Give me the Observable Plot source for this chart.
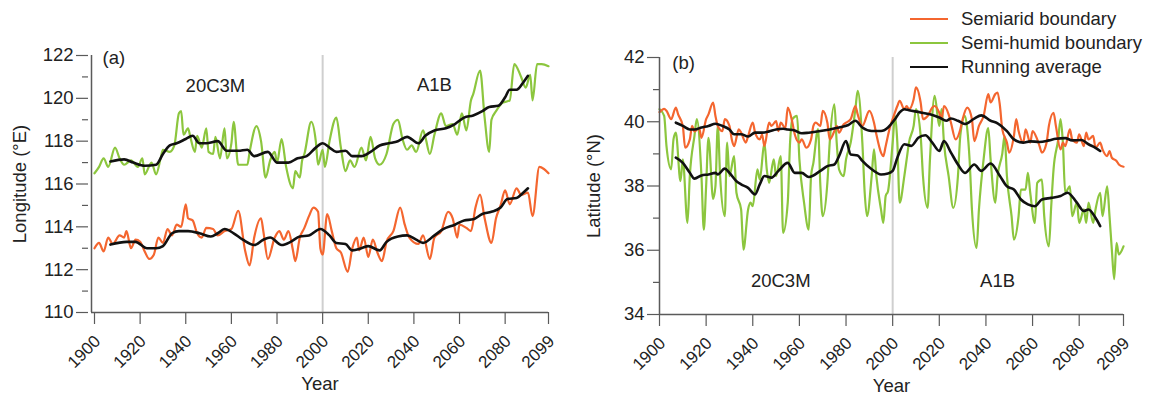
<!DOCTYPE html>
<html><head><meta charset="utf-8">
<script src="https://cdn.jsdelivr.net/npm/d3@7"></script>
<script src="https://cdn.jsdelivr.net/npm/@observablehq/plot@0.6"></script>
<style>
body{margin:0;background:#fff;}
#wrap{position:relative;width:1149px;height:396px;font-family:"Liberation Sans",Arial,sans-serif;color:#222;overflow:hidden;}
#wrap svg{position:absolute;top:0;}
#legend{position:absolute;left:910px;top:7px;font-size:18.5px;}
.row{height:24px;display:flex;align-items:center;white-space:nowrap;}
.sw{width:38px;height:2px;margin-right:13px;}
</style></head><body><div id="wrap"><div id="legend"></div></div>
<script>
// ---------- data ----------
const seriesNames = ["Semiarid boundary", "Semi-humid boundary", "Running average"];
const yearTicks = [1900,1920,1940,1960,1980,2000,2020,2040,2060,2080,2099];
const lonTicks = [110,112,114,116,118,120,122];
const lonMinor = [111,113,115,117,119,121];
const latTicks = [34,36,38,40,42];
const latMinor = [35,37,39,41];
const scenarioYear = [2000];

// panel (a): longitude (°E)
const lonSemihumid = [[1900,116.5],[1902,116.8],[1904,117.2],[1906,116.8],[1909,117.7],[1911,117.2],[1913,116.9],[1916,117.1],[1919,116.8],[1921,117.2],[1922,116.45],[1925,117.0],[1927,116.45],[1929,117.2],[1930,117.6],[1933,117.5],[1935,117.8],[1937,119.3],[1938,119.4],[1939,118.3],[1941,118.6],[1942,118.2],[1944,117.5],[1945,118.25],[1947,117.7],[1949,118.6],[1950,117.5],[1952,117.4],[1953,118.2],[1955,117.2],[1957,118.6],[1958,117.2],[1960,117.9],[1961,118.9],[1963,116.9],[1965,116.9],[1967,116.9],[1968,117.5],[1971,118.7],[1973,118.0],[1975,116.3],[1977,117.1],[1979,117.5],[1980,117.0],[1982,118.1],[1984,116.8],[1987,115.8],[1988,116.6],[1990,116.3],[1991,117.1],[1992,117.4],[1995,118.9],[1997,118.0],[1998,116.9],[2000,117.6],[2001,116.8],[2003,118.0],[2006,119.1],[2008,117.7],[2010,116.6],[2012,117.1],[2014,116.8],[2017,117.7],[2019,117.1],[2021,118.2],[2023,117.2],[2025,116.9],[2028,117.4],[2031,118.8],[2033,119.0],[2035,118.1],[2037,117.6],[2039,117.8],[2041,117.5],[2044,118.5],[2045,118.2],[2047,117.4],[2049,118.3],[2052,119.3],[2054,118.7],[2057,118.8],[2059,118.3],[2061,119.3],[2063,118.5],[2065,119.9],[2066,120.2],[2069,121.3],[2071,119.1],[2073,117.5],[2074,119.0],[2076,119.4],[2079,119.8],[2082,119.9],[2084,121.6],[2087,121.0],[2089,120.5],[2091,121.1],[2092,119.9],[2094,121.6],[2096,121.6],[2099,121.5]];
const lonSemiarid = [[1900,113.0],[1902,113.25],[1904,112.85],[1906,113.5],[1908,113.2],[1911,113.6],[1913,113.5],[1914,113.8],[1916,113.0],[1918,113.4],[1920,113.3],[1922,112.85],[1924,112.5],[1926,112.7],[1928,113.5],[1930,113.25],[1932,113.9],[1934,113.6],[1936,114.1],[1938,114.0],[1940,115.05],[1941,114.4],[1943,114.3],[1945,113.7],[1947,113.5],[1949,113.95],[1952,113.9],[1954,113.6],[1957,113.8],[1960,113.9],[1963,114.75],[1966,112.9],[1968,112.2],[1970,113.5],[1973,114.4],[1974,113.8],[1976,112.5],[1979,113.5],[1981,113.8],[1983,113.4],[1985,113.8],[1987,112.9],[1988,112.4],[1990,113.5],[1992,113.95],[1994,114.5],[1996,114.9],[1998,114.7],[1999,113.0],[2000,112.7],[2002,114.6],[2004,113.8],[2006,113.0],[2008,112.8],[2011,111.9],[2013,113.0],[2015,113.5],[2016,112.9],[2018,113.5],[2020,112.6],[2022,113.4],[2024,112.8],[2026,112.4],[2028,113.3],[2031,113.8],[2034,114.9],[2036,114.1],[2038,113.5],[2042,113.2],[2044,113.6],[2047,112.5],[2049,113.5],[2052,113.8],[2055,114.7],[2057,114.4],[2059,113.5],[2060,114.1],[2063,113.95],[2065,113.8],[2067,114.9],[2069,115.5],[2071,114.4],[2074,113.25],[2076,114.4],[2078,115.0],[2080,115.7],[2082,115.05],[2085,115.8],[2087,115.5],[2090,115.6],[2092,114.5],[2095,116.8],[2097,116.7],[2099,116.5]];
const lonSemihumidAvg = [[1907,117.05],[1913,117.15],[1917,117.0],[1922,116.85],[1927,116.9],[1930,117.4],[1933,117.8],[1936,117.9],[1940,118.1],[1943,118.25],[1946,117.9],[1949,117.9],[1954,118.0],[1958,117.55],[1963,117.55],[1967,117.6],[1970,117.3],[1976,117.5],[1980,117.0],[1985,117.0],[1989,117.2],[1993,117.3],[1997,117.7],[2000,117.9],[2003,117.7],[2006,117.5],[2010,117.55],[2013,117.3],[2017,117.3],[2021,117.5],[2025,117.8],[2029,117.9],[2033,118.0],[2037,118.2],[2042,117.9],[2045,118.25],[2049,118.5],[2054,118.6],[2058,118.8],[2062,119.1],[2066,119.2],[2070,119.4],[2073,119.6],[2077,119.65],[2080,120.05],[2082,120.4],[2085,120.4],[2088,120.75],[2090,121.05]];
const lonSemiaridAvg = [[1907,113.17],[1914,113.3],[1918,113.3],[1923,113.0],[1927,113.0],[1930,113.1],[1934,113.7],[1937,113.8],[1941,113.8],[1946,113.7],[1951,113.55],[1954,113.7],[1957,113.9],[1961,113.7],[1965,113.4],[1970,113.15],[1974,113.4],[1977,113.5],[1982,113.15],[1986,113.3],[1990,113.55],[1994,113.6],[1999,113.9],[2003,113.6],[2006,113.25],[2010,113.2],[2013,112.9],[2017,113.0],[2020,113.1],[2025,112.9],[2028,113.3],[2033,113.55],[2037,113.6],[2041,113.4],[2044,113.25],[2049,113.6],[2053,113.9],[2058,114.1],[2062,114.3],[2066,114.35],[2070,114.6],[2074,114.7],[2078,114.9],[2081,115.3],[2085,115.35],[2088,115.6],[2090,115.8]];

// panel (b): latitude (°N)
const latSemiarid = [[1900,40.3],[1902,40.4],[1903,40.34],[1905,40.08],[1907,40.44],[1908,40.23],[1910,39.87],[1911,39.19],[1913,39.45],[1914,39.87],[1915,39.7],[1917,39.8],[1918,39.5],[1920,40.08],[1921,40.23],[1923,40.6],[1924,40.18],[1925,39.87],[1927,39.71],[1928,40.08],[1930,39.87],[1931,39.45],[1932,39.24],[1934,39.76],[1935,39.66],[1937,39.35],[1938,39.55],[1940,39.97],[1941,39.66],[1943,39.45],[1944,39.6],[1945,39.24],[1947,39.97],[1948,39.87],[1950,40.02],[1951,39.71],[1952,39.97],[1954,39.8],[1955,40.44],[1957,39.97],[1958,39.61],[1960,39.35],[1961,39.45],[1963,39.19],[1965,39.45],[1966,39.87],[1967,39.97],[1969,39.87],[1970,40.34],[1972,39.97],[1973,39.45],[1975,39.71],[1976,39.87],[1977,39.66],[1979,39.92],[1980,39.97],[1982,40.08],[1984,40.49],[1985,40.23],[1987,39.87],[1990,40.34],[1992,39.97],[1993,39.61],[1995,39.04],[1996,38.93],[1997,39.24],[1999,39.87],[2000,40.08],[2002,40.49],[2003,40.65],[2005,40.39],[2006,40.49],[2007,40.39],[2009,40.7],[2010,41.07],[2012,40.6],[2013,40.08],[2015,40.18],[2017,40.44],[2018,40.49],[2020,40.28],[2021,40.08],[2022,40.49],[2024,40.23],[2025,39.97],[2027,39.45],[2029,39.76],[2030,40.08],[2032,40.44],[2034,40.08],[2035,39.4],[2037,39.87],[2039,40.18],[2041,40.86],[2042,40.6],[2044,40.86],[2045,40.91],[2046,40.5],[2047,39.77],[2049,39.35],[2050,39.04],[2052,39.56],[2053,40.08],[2054,39.71],[2056,39.35],[2057,39.76],[2059,39.35],[2060,39.71],[2062,39.45],[2063,39.24],[2064,39.04],[2066,39.35],[2067,39.87],[2069,40.28],[2070,39.87],[2072,39.14],[2073,39.35],[2074,39.24],[2076,39.76],[2077,39.45],[2079,39.35],[2080,39.61],[2082,39.24],[2083,39.66],[2084,39.45],[2086,39.56],[2087,39.19],[2089,39.35],[2090,39.14],[2092,38.93],[2093,39.09],[2094,38.88],[2096,38.78],[2097,38.67],[2099,38.6]];
const latSemihumid = [[1900,40.39],[1902,40.18],[1903,39.24],[1905,38.52],[1906,39.45],[1907,39.66],[1909,38.15],[1910,38.83],[1912,36.85],[1913,38.31],[1915,39.56],[1916,40.08],[1918,38.3],[1919,36.64],[1920,38.0],[1921,39.5],[1923,37.6],[1924,38.0],[1925,39.87],[1926,38.31],[1928,37.06],[1929,39.35],[1930,38.31],[1932,38.93],[1933,37.79],[1935,37.27],[1936,36.02],[1938,37.27],[1939,37.48],[1940,37.37],[1942,38.52],[1943,38.2],[1945,39.35],[1946,38.52],[1947,38.1],[1949,38.83],[1950,38.31],[1952,38.93],[1953,36.54],[1955,37.48],[1956,39.35],[1957,40.08],[1959,40.18],[1960,38.83],[1962,37.48],[1964,36.64],[1965,38.31],[1966,38.72],[1968,39.77],[1969,38.0],[1970,37.06],[1972,38.1],[1973,39.35],[1975,40.54],[1976,39.35],[1977,38.52],[1979,38.31],[1980,38.83],[1982,39.35],[1984,40.39],[1985,40.96],[1987,39.35],[1988,37.79],[1989,37.06],[1991,38.31],[1992,39.14],[1993,38.31],[1995,37.27],[1996,36.85],[1997,37.69],[1998,37.84],[2000,39.35],[2001,40.18],[2002,39.35],[2003,37.48],[2005,38.31],[2006,38.83],[2007,39.35],[2009,39.87],[2010,40.39],[2012,39.56],[2013,38.31],[2015,37.32],[2016,38.83],[2018,40.81],[2020,39.87],[2021,40.39],[2022,39.35],[2024,38.31],[2026,37.32],[2028,38.31],[2029,39.56],[2031,40.18],[2032,39.77],[2033,38.8],[2034,37.27],[2036,36.07],[2037,37.27],[2039,38.83],[2041,39.8],[2042,38.83],[2044,37.48],[2045,38.31],[2047,39.0],[2048,39.56],[2049,38.31],[2051,37.06],[2052,36.33],[2054,37.06],[2055,37.89],[2057,37.89],[2058,38.41],[2059,37.79],[2061,36.85],[2062,38.1],[2064,38.2],[2065,37.06],[2067,36.12],[2068,37.37],[2069,38.52],[2071,39.45],[2072,40.08],[2073,39.35],[2074,37.79],[2076,37.99],[2077,37.06],[2079,37.48],[2080,36.85],[2082,37.27],[2083,36.85],[2084,37.48],[2086,36.85],[2087,37.27],[2089,37.79],[2090,37.06],[2092,37.99],[2093,37.06],[2094,36.02],[2095,35.1],[2096,36.23],[2097,35.87],[2099,36.12]];
const latSemiaridAvg = [[1907,39.97],[1910,39.87],[1913,39.76],[1915,39.76],[1918,39.82],[1921,39.87],[1924,39.94],[1927,39.87],[1930,39.76],[1932,39.61],[1935,39.61],[1938,39.54],[1941,39.66],[1944,39.66],[1947,39.7],[1950,39.76],[1953,39.78],[1955,39.76],[1958,39.73],[1961,39.64],[1964,39.66],[1969,39.71],[1973,39.76],[1977,39.82],[1981,39.9],[1984,40.03],[1987,39.82],[1991,39.71],[1995,39.71],[1998,39.82],[2001,40.08],[2003,40.29],[2005,40.39],[2007,40.36],[2012,40.29],[2016,40.23],[2020,40.13],[2023,40.03],[2025,40.1],[2028,40.03],[2031,39.93],[2035,40.1],[2038,40.2],[2042,40.03],[2045,39.95],[2049,39.71],[2052,39.45],[2056,39.35],[2059,39.39],[2063,39.37],[2067,39.42],[2070,39.47],[2074,39.49],[2077,39.42],[2081,39.43],[2084,39.3],[2087,39.19],[2089,39.09]];
const latSemihumidAvg = [[1907,38.88],[1910,38.72],[1913,38.41],[1915,38.23],[1918,38.33],[1921,38.36],[1924,38.41],[1925,38.36],[1928,38.54],[1930,38.41],[1933,38.15],[1935,38.05],[1938,37.94],[1941,37.74],[1943,38.05],[1945,38.31],[1948,38.26],[1951,38.47],[1955,38.72],[1958,38.41],[1961,38.41],[1964,38.28],[1969,38.47],[1972,38.62],[1975,38.67],[1977,38.93],[1980,39.4],[1982,38.98],[1985,38.95],[1987,38.78],[1991,38.52],[1995,38.36],[1998,38.39],[2000,38.47],[2002,38.88],[2005,39.3],[2008,39.25],[2011,39.5],[2014,39.58],[2017,39.35],[2020,39.09],[2022,39.4],[2025,39.04],[2028,38.67],[2031,38.41],[2035,38.67],[2038,38.47],[2042,38.7],[2046,38.31],[2049,37.99],[2052,37.89],[2055,37.58],[2058,37.43],[2061,37.37],[2064,37.58],[2068,37.63],[2072,37.69],[2075,37.79],[2079,37.48],[2082,37.22],[2084,37.27],[2087,37.01],[2089,36.75]];

// annotations
const tagA = [{x:1903.5,y:121.9,t:"(a)"}];
const scenA = [{x:1953,y:120.55,t:"20C3M"},{x:2049,y:120.6,t:"A1B"}];
const tagB = [{x:1905.5,y:41.84,t:"(b)"}];
const scenB = [{x:1952,y:35.03,t:"20C3M"},{x:2045,y:35.03,t:"A1B"}];

// ---------- style ----------
const ORANGE = "#F4662F", GREEN = "#8CC63E", BLACK = "#111", AXIS = "#5a5a5a", TXT = "#222";
const FONT = "Liberation Sans, Arial, sans-serif";
const FS = 18.5, FSX = 17;

function panel({w, ml, mr, mt, mb, inset, ydom, yt, ym, arid, humid, aridAvg, humidAvg, tag, scen, ylabel}) {
  const X = d => d[0], Y = d => d[1];
  return Plot.plot({
    width: w, height: 396,
    marginLeft: ml, marginRight: mr, marginTop: mt, marginBottom: mb,
    insetLeft: inset,
    style: {fontFamily: FONT, fontSize: FS + "px", color: TXT, background: "transparent", overflow: "visible"},
    x: {domain: [1900, 2099]},
    y: {domain: ydom},
    marks: [
      Plot.ruleX(scenarioYear, {stroke: "#cfcfcf", strokeWidth: 2}),
      Plot.line(humid, {x: X, y: Y, stroke: GREEN, strokeWidth: 2.2, curve: "monotone-x"}),
      Plot.line(arid, {x: X, y: Y, stroke: ORANGE, strokeWidth: 2.2, curve: "monotone-x"}),
      Plot.line(humidAvg, {x: X, y: Y, stroke: BLACK, strokeWidth: 2.6, curve: "monotone-x"}),
      Plot.line(aridAvg, {x: X, y: Y, stroke: BLACK, strokeWidth: 2.6, curve: "monotone-x"}),
      Plot.ruleY([ydom[0]], {stroke: AXIS, strokeWidth: 1.5}),
      Plot.ruleX([1900], {dx: -inset, stroke: AXIS, strokeWidth: 1.5}),
      Plot.axisY({ticks: yt, tickSize: 12, tickPadding: 3, label: null, stroke: AXIS, fill: TXT, fontSize: FS, strokeWidth: 1.2, dx: -inset}),
      Plot.axisY({ticks: ym, tickSize: 6, tickFormat: () => "", label: null, stroke: AXIS, strokeWidth: 1.2, dx: -inset}),
      Plot.axisX({ticks: yearTicks, tickFormat: () => "", tickSize: 12, label: null, stroke: AXIS, strokeWidth: 1.2}),
      Plot.axisX({ticks: yearTicks, tickFormat: d => String(d), tickSize: 0, tickPadding: 26, dx: 3, tickRotate: -45, label: null, stroke: "none", fill: TXT, fontSize: FSX}),
      Plot.text(tag, {x: "x", y: "y", text: "t", textAnchor: "start", fontSize: FS, fill: TXT}),
      Plot.text(scen, {x: "x", y: "y", text: "t", textAnchor: "middle", fontSize: FS, fill: TXT}),
      Plot.text([ylabel], {text: d => d, frameAnchor: "left", textAnchor: "middle", rotate: -90, dx: -(ml - 20), fontSize: FS, fill: TXT}),
      Plot.text(["Year"], {text: d => d, frameAnchor: "bottom", textAnchor: "middle", dy: 77, fontSize: FS, fill: TXT})
    ]
  });
}

const wrap = document.getElementById("wrap");
const pa = panel({w: 574, ml: 91, mr: 26, mt: 55, mb: 84, inset: 3, ydom: [110, 122], yt: lonTicks, ym: lonMinor,
  arid: lonSemiarid, humid: lonSemihumid, aridAvg: lonSemiaridAvg, humidAvg: lonSemihumidAvg, tag: tagA, scen: scenA, ylabel: "Longitude (°E)"});
pa.style.left = "0px";
const pb = panel({w: 575, ml: 85, mr: 26, mt: 57, mb: 82, inset: 0, ydom: [34, 42], yt: latTicks, ym: latMinor,
  arid: latSemiarid, humid: latSemihumid, aridAvg: latSemiaridAvg, humidAvg: latSemihumidAvg, tag: tagB, scen: scenB, ylabel: "Latitude (°N)"});
pb.style.left = "574px";
wrap.insertBefore(pa, wrap.firstChild);
wrap.insertBefore(pb, wrap.firstChild);

// legend
const legend = document.getElementById("legend");
[[seriesNames[0], ORANGE], [seriesNames[1], GREEN], [seriesNames[2], BLACK]].forEach(([name, c]) => {
  const row = document.createElement("div");
  row.className = "row";
  row.innerHTML = `<span class="sw" style="background:${c}"></span><span>${name}</span>`;
  legend.appendChild(row);
});
</script></body></html>
